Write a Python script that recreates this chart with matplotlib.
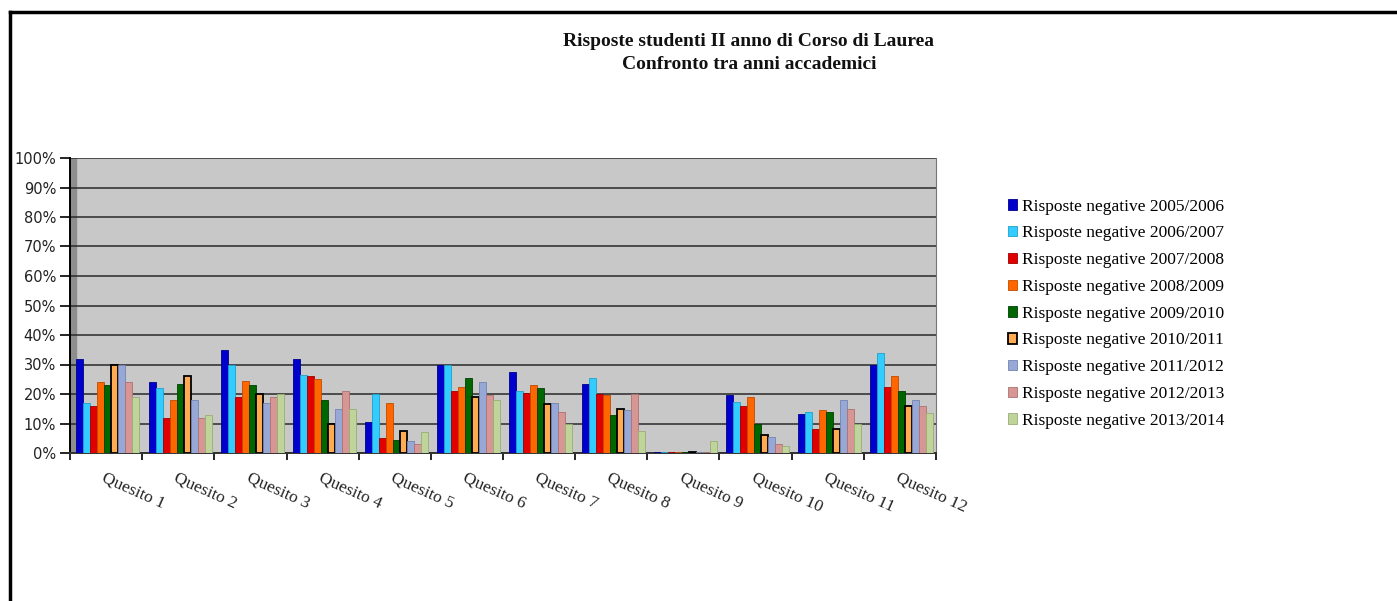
'''
Risposte studenti II anno - confronto tra anni accademici
'''

import numpy as np
import matplotlib.pyplot as plt
from matplotlib.patches import Rectangle

# Categories and series (fractions)
quesiti = ['Quesito %d' % i for i in range(1, 13)]
anni = ['2005/2006', '2006/2007', '2007/2008', '2008/2009', '2009/2010',
        '2010/2011', '2011/2012', '2012/2013', '2013/2014']

r0506 = [0.32, 0.24, 0.35, 0.32, 0.105, 0.30, 0.275, 0.235, 0.004, 0.197, 0.132, 0.30]
r0607 = [0.17, 0.22, 0.30, 0.265, 0.20, 0.30, 0.21, 0.255, 0.004, 0.173, 0.14, 0.34]
r0708 = [0.16, 0.12, 0.19, 0.26, 0.05, 0.21, 0.205, 0.20, 0.004, 0.16, 0.08, 0.225]
r0809 = [0.24, 0.18, 0.245, 0.25, 0.17, 0.225, 0.23, 0.195, 0.004, 0.19, 0.146, 0.26]
r0910 = [0.23, 0.235, 0.23, 0.18, 0.045, 0.255, 0.22, 0.13, 0.004, 0.10, 0.14, 0.21]
r1011 = [0.30, 0.26, 0.20, 0.10, 0.075, 0.19, 0.165, 0.15, 0.004, 0.06, 0.08, 0.16]
r1112 = [0.30, 0.18, 0.17, 0.15, 0.04, 0.24, 0.17, 0.145, 0.004, 0.055, 0.18, 0.18]
r1213 = [0.24, 0.12, 0.19, 0.21, 0.03, 0.195, 0.14, 0.20, 0.004, 0.03, 0.15, 0.16]
r1314 = [0.19, 0.13, 0.20, 0.15, 0.07, 0.18, 0.10, 0.075, 0.04, 0.025, 0.10, 0.135]

series = [r0506, r0607, r0708, r0809, r0910, r1011, r1112, r1213, r1314]
colori = ['#0000cc', '#33ccff', '#e00000', '#ff6600', '#006600',
          '#ffab52', '#97a8d6', '#d69794', '#bfd49a']
bordi = ['#00008a', '#1f9fcc', '#a00000', '#c04c00', '#003f00',
         '#000000', '#7384b0', '#ad7270', '#98ad75']

fig = plt.figure(figsize=(13.97, 6.01), dpi=100)
ax = fig.add_axes([70/1397, 148/601, 866/1397, 295/601])
ax.set_facecolor('#c8c8c8')

# left side wall of the 3D look
ax.add_patch(Rectangle((0, 0), 0.09, 1.0, color='#8e8e8e', zorder=0.5))

x = np.arange(len(quesiti))
w = 0.097
for j, (vals, c, b) in enumerate(zip(series, colori, bordi)):
    lw = 1.3 if j == 5 else 0.6
    ax.bar(x + 0.09 + j*w, vals, width=w, align='edge', color=c,
           edgecolor=b, linewidth=lw, label='Risposte negative ' + anni[j],
           zorder=3)

ax.set_xlim(0, 12)
ax.set_ylim(0, 1)
ax.set_yticks(np.arange(0, 1.01, 0.1))
ax.set_yticklabels(['%d%%' % v for v in range(0, 101, 10)],
                   fontsize=10.5, color='#222222', family='DejaVu Sans')
ax.yaxis.grid(True, color='#2a2a2a', linewidth=1.1, zorder=1)
ax.set_axisbelow(True)
ax.tick_params(axis='y', direction='out', length=7, width=1.2, pad=3)

ax.set_xticks(range(13))
ax.set_xticklabels([])
ax.tick_params(axis='x', which='major', direction='out', length=5, width=1.2)
ax.set_xticks(x + 0.5, minor=True)
ax.set_xticklabels(quesiti, minor=True, rotation=-24, ha='left', va='top',
                   rotation_mode='anchor', fontsize=12.5,
                   family='Liberation Serif', color='#222222')
ax.tick_params(axis='x', which='minor', length=0, pad=12)

ax.spines['top'].set_visible(False)
ax.spines['right'].set_color('#777777')
ax.spines['left'].set_linewidth(1.4)
ax.spines['bottom'].set_linewidth(1.4)
ax.spines['bottom'].set_color('#333333')

fig.text(0.536, 1 - 53/601, 'Risposte studenti II anno di Corso di Laurea\nConfronto tra anni accademici',
         ha='center', va='center', fontsize=14, fontweight='bold',
         family='Liberation Serif', color='#111111', linespacing=1.45)

fig.legend(loc='upper left', bbox_to_anchor=(992/1397, 1 - 183/601),
           frameon=False, handlelength=0.55, handleheight=0.55,
           handletextpad=0.25, labelspacing=0.62,
           prop={'family': 'Liberation Serif', 'size': 12.5})

# border of the sheet
fig.add_artist(plt.Line2D([10/1397, 10/1397], [0, 1 - 12/601], color='black', lw=2.5))
fig.add_artist(plt.Line2D([10/1397, 1], [1 - 12/601, 1 - 12/601], color='black', lw=2.5))

fig.savefig('out.png', dpi=100)
